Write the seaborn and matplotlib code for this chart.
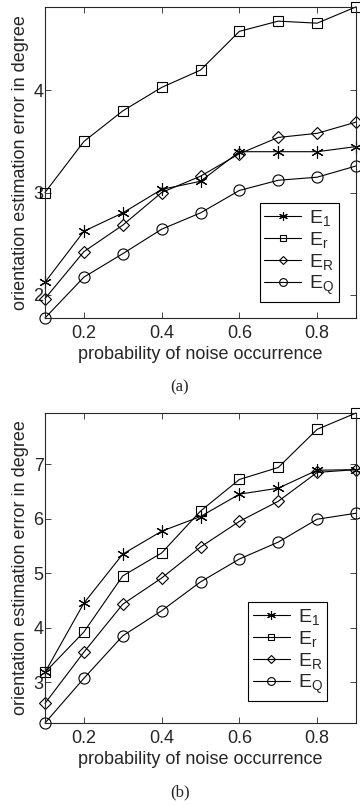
import matplotlib
matplotlib.use("Agg")
import matplotlib.pyplot as plt
import numpy as np
import pandas as pd
import seaborn as sns

# probability of noise occurrence
prob = [0.1, 0.2, 0.3, 0.4, 0.5, 0.6, 0.7, 0.8, 0.9]

# panel (a)
a_E1 = [2.12, 2.62, 2.80, 3.03, 3.11, 3.40, 3.40, 3.40, 3.45]
a_Er = [3.00, 3.50, 3.80, 4.03, 4.20, 4.58, 4.68, 4.66, 4.82]
a_ER = [1.96, 2.42, 2.68, 3.00, 3.16, 3.38, 3.54, 3.58, 3.69]
a_EQ = [1.77, 2.17, 2.40, 2.64, 2.80, 3.02, 3.12, 3.15, 3.26]

# panel (b)
b_E1 = [3.18, 4.45, 5.35, 5.77, 6.04, 6.45, 6.56, 6.89, 6.90]
b_Er = [3.18, 3.92, 4.95, 5.37, 6.14, 6.72, 6.94, 7.64, 7.94]
b_ER = [2.61, 3.55, 4.43, 4.91, 5.48, 5.95, 6.32, 6.85, 6.90]
b_EQ = [2.25, 3.07, 3.85, 4.31, 4.84, 5.26, 5.57, 5.99, 6.10]

series = ["E1", "Er", "ER", "EQ"]
labels = ["$E_1$", "$E_r$", "$E_R$", "$E_Q$"]
markers = {"E1": "*", "Er": "s", "ER": "D", "EQ": "o"}
msizes = {"E1": 9, "Er": 7, "ER": 6, "EQ": 8}

sns.set_style("ticks")
plt.rcParams["font.family"] = ["Liberation Sans", "DejaVu Sans"]
plt.rcParams["mathtext.fontset"] = "custom"
plt.rcParams["mathtext.rm"] = "Liberation Sans"
plt.rcParams["mathtext.it"] = "Liberation Sans"


def to_long(vals):
    rows = []
    for name, ys in zip(series, vals):
        for x, y in zip(prob, ys):
            rows.append({"p": x, "err": y, "method": name})
    return pd.DataFrame(rows)


def draw(ax, df, yticks, ylim, legend_box):
    sns.lineplot(data=df, x="p", y="err", style="method", markers=markers,
                 dashes=False, color="black", linewidth=0.8, ax=ax,
                 legend=False, clip_on=False)
    for line, name in zip(ax.lines, series):
        if name == "E1":
            # matlab style asterisk instead of a filled star
            line.set_marker((6, 2, 0))
        line.set_markerfacecolor("none")
        line.set_markeredgecolor("black")
        line.set_markeredgewidth(0.8)
        line.set_markersize(msizes[name])
    ax.set_xlim(0.1, 0.9)
    ax.set_ylim(*ylim)
    ax.set_xticks([0.2, 0.4, 0.6, 0.8])
    ax.set_xticklabels(["0.2", "0.4", "0.6", "0.8"])
    ax.set_yticks(yticks)
    ax.tick_params(direction="in", top=True, right=True, labelsize=13,
                   length=4, width=0.6)
    ax.tick_params(axis="y", pad=1)
    ax.tick_params(axis="x", pad=5)
    for s in ax.spines.values():
        s.set_linewidth(0.8)
    ax.set_xlabel("probability of noise occurrence", fontsize=13, labelpad=3)
    ax.set_ylabel("orientation estimation error in degree", fontsize=13,
                  labelpad=3)
    leg = ax.legend(ax.lines[:4], labels, loc="upper left",
                    bbox_to_anchor=legend_box, fontsize=14, frameon=True,
                    fancybox=False, edgecolor="black", handlelength=1.9,
                    borderpad=0.25, labelspacing=0.1, handletextpad=0.4,
                    markerscale=0.7, framealpha=1, borderaxespad=0)
    leg.get_frame().set_linewidth(0.8)


fig = plt.figure(figsize=(3.6, 8.06), dpi=100)
ax1 = fig.add_axes([0.125, 0.6055, 0.864, 0.386])
ax2 = fig.add_axes([0.125, 0.103, 0.864, 0.3846])

draw(ax1, to_long([a_E1, a_Er, a_ER, a_EQ]), [2, 3, 4], (1.77, 4.82),
     (0.69, 0.37))
draw(ax2, to_long([b_E1, b_Er, b_ER, b_EQ]), [3, 4, 5, 6, 7], (2.25, 7.94),
     (0.653, 0.39))

fig.text(0.5, 1 - 387 / 806, "(a)", ha="center", va="center",
         family="Liberation Serif", fontsize=12)
fig.text(0.5, 1 - 792 / 806, "(b)", ha="center", va="center",
         family="Liberation Serif", fontsize=12)

fig.savefig("out.png", dpi=100)
